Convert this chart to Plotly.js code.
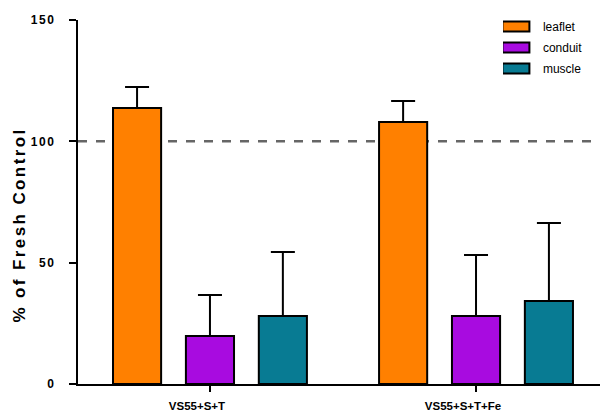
<!DOCTYPE html>
<html>
<head>
<meta charset="utf-8">
<script src="https://cdn.plot.ly/plotly-3.0.1.min.js"></script>
<style>
html,body{margin:0;padding:0;background:#fff;}
#chart{width:600px;height:412px;}
#chart .ytitle{letter-spacing:2.4px;}
</style>
</head>
<body>
<div id="chart"></div>
<script>
const categories = ["VS55+S+T", "VS55+S+T+Fe"];
const seriesNames = ["leaflet", "conduit", "muscle"];
const leaflet = [113.7, 108.0];
const leafletErr = [8.7, 8.6];
const conduit = [19.8, 28.0];
const conduitErr = [16.9, 25.2];
const muscle = [28.0, 34.2];
const muscleErr = [26.4, 32.1];
const colors = ["#FF8000", "#A80BE0", "#087B93"];
const refLine = 100;

const vals = [leaflet, conduit, muscle];
const errs = [leafletErr, conduitErr, muscleErr];
const traces = seriesNames.map((n, i) => ({
  type: "bar",
  name: n,
  legendgroup: n,
  x: categories,
  y: vals[i],
  marker: {color: colors[i], line: {color: "#000", width: 2}},
  error_y: {type: "data", symmetric: false, array: errs[i], arrayminus: [0, 0], color: "#000", thickness: 2, width: 12}
}));

const layout = {
  width: 600, height: 412,
  margin: {l: 78, r: 0, t: 20, b: 28},
  paper_bgcolor: "#fff", plot_bgcolor: "#fff",
  barmode: "group", bargap: 0.178, bargroupgap: 0.34,
  font: {family: "Liberation Sans, Arial, sans-serif", color: "#000"},
  xaxis: {
    range: [-0.496, 1.466], showline: true, linecolor: "#000", linewidth: 2,
    ticks: "outside", ticklen: 6, tickwidth: 2, tickcolor: "#000",
    tickfont: {size: 11.5, family: "Liberation Sans, Arial", weight: "bold"},
    ticklabelstandoff: 4, ticklabelshift: -13,
    showgrid: false, zeroline: false, fixedrange: true
  },
  yaxis: {
    range: [0, 150], tickvals: [0, 50, 100, 150], showline: true, linecolor: "#000", linewidth: 2,
    ticks: "outside", ticklen: 7, tickwidth: 2, tickcolor: "#000",
    tickfont: {size: 12, family: "Liberation Sans, Arial", weight: "bold"},
    ticklabelstandoff: 8,
    showgrid: false, zeroline: false,
    title: {text: "% of Fresh Control", font: {size: 17, family: "Liberation Sans, Arial", weight: "bold"}, standoff: 10}
  },
  shapes: [{type: "line", xref: "paper", x0: 0, x1: 1, yref: "y", y0: refLine, y1: refLine,
    line: {color: "#666", width: 2.5, dash: "dash"}, layer: "below"}],
  legend: {x: 0.814, y: 1.022, xanchor: "left", yanchor: "top", font: {size: 12}, bgcolor: "rgba(0,0,0,0)", tracegroupgap: 2},
  showlegend: true
};
Plotly.newPlot("chart", traces, layout, {displayModeBar: false, staticPlot: true}).then(gd => {
  gd.querySelectorAll(".legend .legendpoints path").forEach(p => {
    p.setAttribute("d", "M6.5,5H-20.5V-5H6.5Z");
    p.style.strokeWidth = "2px";
  });
  gd.querySelectorAll(".ytick text").forEach(t => {
    t.style.letterSpacing = "1.6px";
    const x = parseFloat(t.getAttribute("x")) || 0;
    t.setAttribute("x", x - 3);
  });
  const yt = gd.querySelector(".g-ytitle");
  if (yt) yt.setAttribute("transform", "translate(1,23)");
});
</script>
</body>
</html>
